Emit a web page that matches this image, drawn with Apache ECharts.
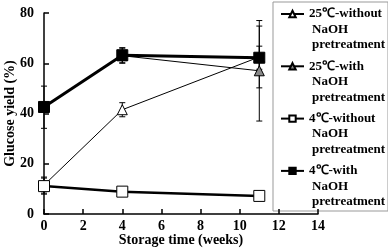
<!DOCTYPE html>
<html>
<head>
<meta charset="utf-8">
<script src="https://cdn.jsdelivr.net/npm/echarts@6/dist/echarts.min.js"></script>
<style>
  html, body { margin: 0; padding: 0; background: #fff; }
  #chart { width: 388px; height: 248px; }
</style>
</head>
<body>
<div id="chart"></div>
<script>
// storage time (weeks)
const weeks = [0, 4, 11];

// glucose yield (%) and error (+/-)
const t25Without = [11.5, 41.5, 62.5];
const t25WithoutErr = [3.2, 2.8, 12.3];
const t25With = [42.5, 63, 57];
const t25WithErr = [8.4, 3, 20];
const t4Without = [11.1, 8.9, 7.2];
const t4WithoutErr = [3.2, 1, 1];
const t4With = [42.6, 63.2, 62.2];
const t4WithErr = [1, 3, 4.6];

const names = ['25℃-without', '25℃-with', '4℃-without', '4℃-with'];
const yTicks = [0, 20, 40, 60, 80];
const xTicks = [0, 2, 4, 6, 8, 10, 12, 14];

const font = 'Liberation Serif, Times New Roman, serif';
const L = 15.5;
const lg = { fontFamily: font, fontWeight: 'bold', fontSize: 13, color: '#000', lineHeight: L };

const pts = (vals) => weeks.map((w, i) => [w, vals[i]]);
const errs = (vals, e) => weeks.map((w, i) => [w, vals[i] - e[i], vals[i] + e[i]]);

const errData = [].concat(
    errs(t25Without, t25WithoutErr),
    errs(t25With, t25WithErr),
    errs(t4Without, t4WithoutErr),
    errs(t4With, t4WithErr)
);

let chart = echarts.init(document.getElementById('chart'));
chart.setOption({
    animation: false,
    grid: { left: 44, right: 70, top: 13, bottom: 34, containLabel: false, outerBoundsMode: 'none' },
    xAxis: {
        type: 'value',
        min: xTicks[0],
        max: xTicks[xTicks.length - 1],
        interval: 2,
        name: 'Storage time (weeks)',
        nameLocation: 'middle',
        nameGap: 19,
        nameMoveOverlap: false,
        nameTextStyle: { fontFamily: font, fontWeight: 'bold', fontSize: 14, color: '#000' },
        axisLine: { lineStyle: { color: '#000', width: 1.5 } },
        axisTick: { inside: true, length: 5, lineStyle: { color: '#000', width: 1.5 } },
        axisLabel: { fontFamily: font, fontWeight: 'bold', fontSize: 14, color: '#000', margin: 5 },
        splitLine: { show: false }
    },
    yAxis: {
        type: 'value',
        min: yTicks[0],
        max: yTicks[yTicks.length - 1],
        interval: 20,
        name: 'Glucose yield (%)',
        nameLocation: 'middle',
        nameGap: 27,
        nameMoveOverlap: false,
        nameTextStyle: { fontFamily: font, fontWeight: 'bold', fontSize: 14, color: '#000' },
        axisLine: { show: true, lineStyle: { color: '#000', width: 1.5 } },
        axisTick: { show: true, inside: true, length: 5, lineStyle: { color: '#000', width: 1.5 } },
        axisLabel: { fontFamily: font, fontWeight: 'bold', fontSize: 14, color: '#000', margin: 10 },
        splitLine: { show: false }
    },
    legend: {
        data: names,
        orient: 'vertical',
        left: 280,
        top: 14 - 2.5 * L,
        padding: 0,
        itemWidth: 23,
        itemHeight: 8,
        itemGap: 52.3 - 5 * L,
        formatter: (n) => '{e| }\n{e| }\n{a|' + n + '}\n{b|NaOH}\n{b|pretreatment}',
        textStyle: {
            fontFamily: font, fontWeight: 'bold', fontSize: 13, color: '#000', lineHeight: L,
            rich: {
                e: lg,
                a: lg,
                b: Object.assign({ padding: [0, 0, 0, 3] }, lg)
            }
        }
    },
    graphic: [{
        type: 'rect',
        shape: { x: 273, y: 2, width: 115, height: 209 },
        style: { fill: 'none', stroke: '#999', lineWidth: 1 }
    }],
    series: [
        {
            type: 'custom',
            silent: true,
            z: 1,
            data: errData,
            renderItem: (params, api) => {
                const lo = api.coord([api.value(0), api.value(1)]);
                const hi = api.coord([api.value(0), api.value(2)]);
                const c = 3;
                const st = { stroke: '#000', lineWidth: 1 };
                return {
                    type: 'group',
                    children: [
                        { type: 'line', shape: { x1: lo[0], y1: lo[1], x2: hi[0], y2: hi[1] }, style: st },
                        { type: 'line', shape: { x1: lo[0] - c, y1: lo[1], x2: lo[0] + c, y2: lo[1] }, style: st },
                        { type: 'line', shape: { x1: hi[0] - c, y1: hi[1], x2: hi[0] + c, y2: hi[1] }, style: st }
                    ]
                };
            }
        },
        {
            name: names[0], type: 'line', data: pts(t25Without),
            symbol: 'triangle', symbolSize: 10,
            lineStyle: { color: '#000', width: 1 },
            itemStyle: { color: '#fff', borderColor: '#000', borderWidth: 1 }
        },
        {
            name: names[1], type: 'line', data: pts(t25With),
            symbol: 'triangle', symbolSize: 10,
            lineStyle: { color: '#000', width: 1 },
            itemStyle: { color: '#888', borderColor: '#000', borderWidth: 1 }
        },
        {
            name: names[2], type: 'line', data: pts(t4Without),
            symbol: 'rect', symbolSize: 11,
            lineStyle: { color: '#000', width: 2.5 },
            itemStyle: { color: '#fff', borderColor: '#000', borderWidth: 1 }
        },
        {
            name: names[3], type: 'line', data: pts(t4With),
            symbol: 'rect', symbolSize: 11,
            lineStyle: { color: '#000', width: 3 },
            itemStyle: { color: '#000', borderColor: '#000', borderWidth: 1 }
        }
    ]
});
</script>
</body>
</html>
